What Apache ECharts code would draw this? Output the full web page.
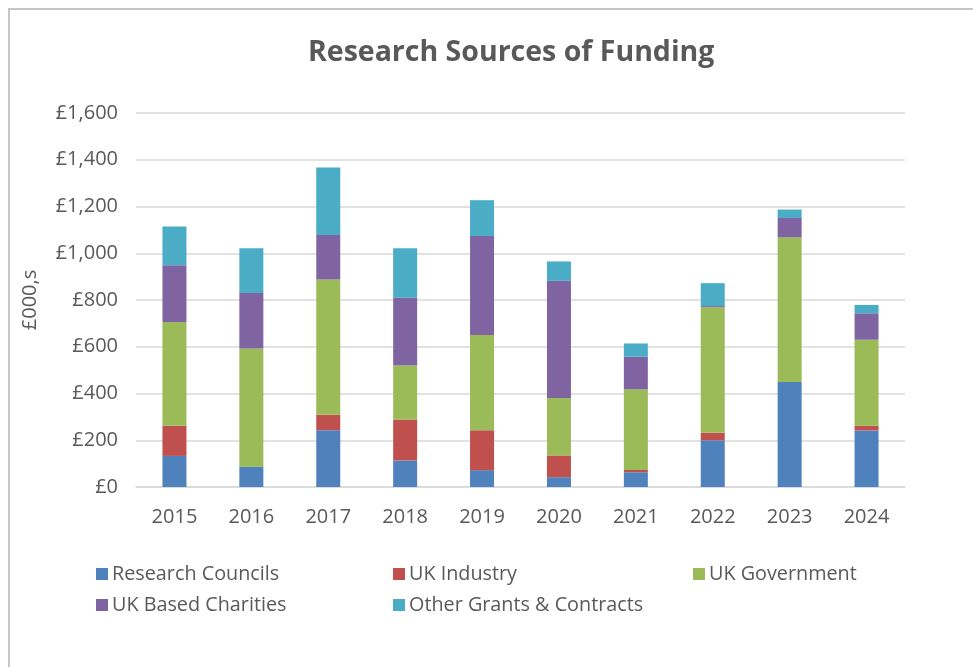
<!DOCTYPE html>
<html>
<head>
<meta charset="utf-8">
<script src="https://cdn.jsdelivr.net/npm/echarts@6/dist/echarts.min.js"></script>
<style>
html,body{margin:0;padding:0;background:#fff;}
#chart{width:973px;height:667px;}
</style>
</head>
<body>
<div id="chart"></div>
<script>
const years = ['2015','2016','2017','2018','2019','2020','2021','2022','2023','2024'];
const researchCouncils = [133, 87, 243, 113, 72, 42, 63, 200, 449, 242];
const ukIndustry       = [129, 0, 66, 176, 171, 93, 10, 32, 0, 20];
const ukGovernment     = [444, 506, 579, 231, 407, 246, 345, 537, 619, 368];
const ukCharities      = [243, 237, 190, 290, 424, 501, 139, 5, 83, 113];
const otherGrants      = [165, 191, 289, 211, 153, 83, 57, 98, 36, 36];
const seriesNames = ['Research Councils','UK Industry','UK Government','UK Based Charities','Other Grants & Contracts'];
const seriesColors = ['#4F81BD','#C0504D','#9BBB59','#8064A2','#4BACC6'];
const seriesData = [researchCouncils, ukIndustry, ukGovernment, ukCharities, otherGrants];

const FONT = '"Open Sans", sans-serif';
const TXT = '#595959';

const legendPos = [
  {left: 96, top: 564},
  {left: 393, top: 564},
  {left: 693, top: 564},
  {left: 96, top: 595},
  {left: 393, top: 595}
];

const chart = echarts.init(document.getElementById('chart'));
chart.setOption({
  animation: false,
  backgroundColor: '#fff',
  title: {
    text: 'Research Sources of Funding',
    left: 308,
    top: 38,
    padding: 0,
    textStyle: {fontFamily: FONT, fontSize: 28.5, fontWeight: 'bold', color: TXT}
  },
  graphic: [{
    type: 'polyline',
    shape: {points: [[9, 667], [9, 9], [973, 9]]},
    style: {stroke: '#C6C6C6', lineWidth: 2, fill: null},
    silent: true
  }],
  legend: seriesNames.map((n, i) => ({
    data: [n],
    left: legendPos[i].left,
    top: legendPos[i].top,
    padding: 0,
    itemWidth: 12,
    itemHeight: 12,
    itemGap: 0,
    icon: 'rect',
    textStyle: {fontFamily: FONT, fontSize: 19.8, color: TXT, padding: [0,0,0,-1]}
  })),
  grid: {left: 136, right: 68, top: 113, bottom: 180, containLabel: false},
  xAxis: {
    type: 'category',
    data: years,
    axisLine: {lineStyle: {color: '#D9D9D9', width: 1.5}},
    axisTick: {show: false},
    axisLabel: {fontFamily: FONT, fontSize: 20, color: TXT, margin: 20}
  },
  yAxis: {
    type: 'value',
    min: 0, max: 1600, interval: 200,
    name: '£000,s',
    nameLocation: 'middle',
    nameGap: 96,
    nameTextStyle: {fontFamily: FONT, fontSize: 20, color: TXT},
    axisLine: {show: false},
    axisTick: {show: false},
    splitLine: {lineStyle: {color: '#D9D9D9', width: 1.5}},
    axisLabel: {
      fontFamily: FONT, fontSize: 20, color: TXT, margin: 18,
      formatter: v => '£' + String(v).replace(/\B(?=(\d{3})+(?!\d))/g, ',')
    }
  },
  series: seriesNames.map((n, i) => ({
    name: n,
    type: 'bar',
    stack: 'total',
    barWidth: 24,
    data: seriesData[i],
    itemStyle: {color: seriesColors[i]}
  }))
});
</script>
</body>
</html>
